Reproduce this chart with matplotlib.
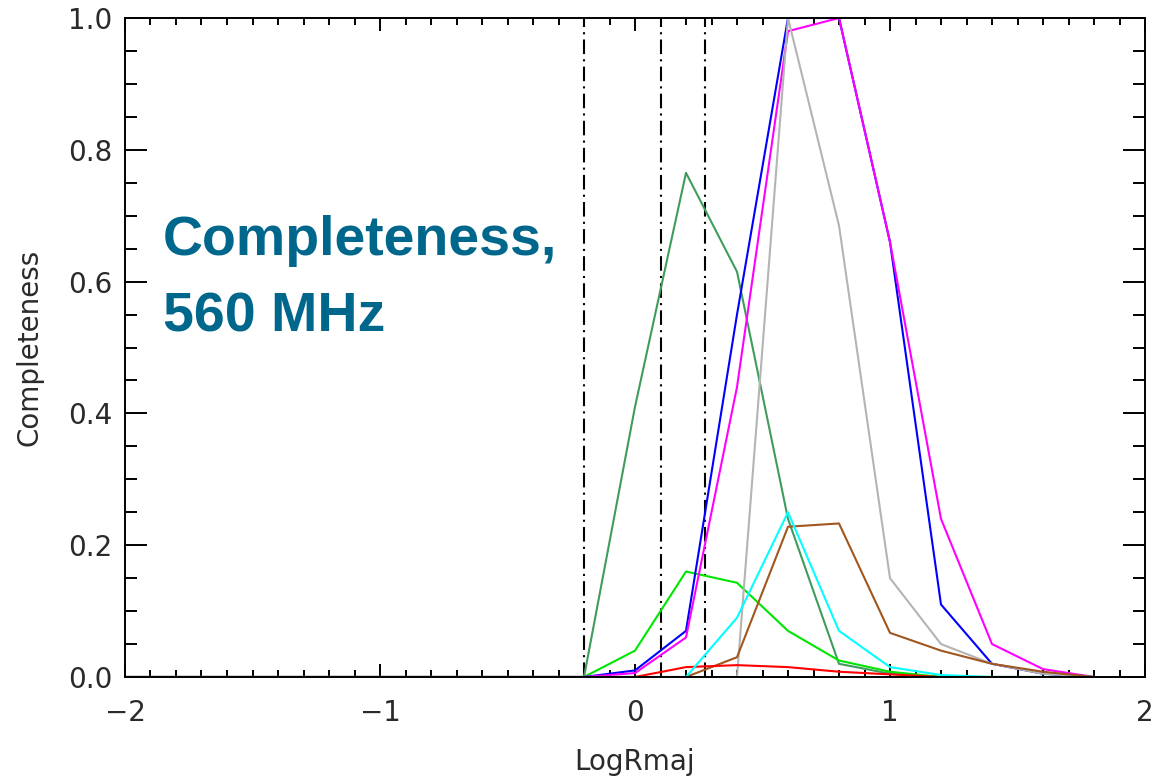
import matplotlib
matplotlib.use("Agg")
import matplotlib.pyplot as plt
from matplotlib.ticker import MultipleLocator, FormatStrFormatter

# x grid (LogRmaj) and completeness per series
logr = [-2.0, -1.8, -1.6, -1.4, -1.2, -1.0, -0.8, -0.6, -0.4, -0.2,
        0.0, 0.2, 0.4, 0.6, 0.8, 1.0, 1.2, 1.4, 1.6, 1.8]

c_seagreen = [0, 0, 0, 0, 0, 0, 0, 0, 0, 0,
              0.41, 0.765, 0.615, 0.24, 0.02, 0.005, 0, 0, 0, 0]
c_lime = [0, 0, 0, 0, 0, 0, 0, 0, 0, 0,
          0.04, 0.16, 0.143, 0.07, 0.025, 0.008, 0, 0, 0, 0]
c_blue = [0, 0, 0, 0, 0, 0, 0, 0, 0, 0,
          0.01, 0.07, 0.55, 1.0, 1.0, 0.66, 0.11, 0.02, 0.005, 0]
c_magenta = [0, 0, 0, 0, 0, 0, 0, 0, 0, 0,
             0.006, 0.06, 0.44, 0.98, 1.0, 0.66, 0.24, 0.05, 0.012, 0]
c_gray = [0, 0, 0, 0, 0, 0, 0, 0, 0, 0,
          0, 0, 0, 1.0, 0.685, 0.15, 0.05, 0.02, 0.005, 0]
c_brown = [0, 0, 0, 0, 0, 0, 0, 0, 0, 0,
           0, 0, 0.03, 0.228, 0.233, 0.067, 0.04, 0.02, 0.008, 0]
c_red = [0, 0, 0, 0, 0, 0, 0, 0, 0, 0,
         0, 0.015, 0.018, 0.015, 0.008, 0.004, 0, 0, 0, 0]
c_cyan = [0, 0, 0, 0, 0, 0, 0, 0, 0, 0,
          0, 0, 0.09, 0.25, 0.07, 0.015, 0.003, 0, 0, 0]

vlines = [-0.2, 0.1, 0.275]

series = [
    (c_seagreen, "#3f9c5c"),
    (c_lime, "#00e600"),
    (c_blue, "#0000ff"),
    (c_magenta, "#ff00ff"),
    (c_gray, "#b4b4b4"),
    (c_brown, "#a0561e"),
    (c_red, "#ff0000"),
    (c_cyan, "#00ffff"),
]

fig = plt.figure(figsize=(11.57, 7.79), dpi=100)
ax = fig.add_axes([125 / 1157, 1 - 677 / 779, 1020 / 1157, 659 / 779])

for xv in vlines:
    ax.axvline(xv, color="black", lw=1.5, linestyle=(0, (7, 2.5, 1, 2.5)), zorder=1)

for vals, col in series:
    ax.plot(logr, vals, color=col, lw=1.5, zorder=2)

ax.set_xlim(-2, 2)
ax.set_ylim(0, 1)

ax.xaxis.set_major_locator(MultipleLocator(1))
ax.xaxis.set_minor_locator(MultipleLocator(0.1))
ax.yaxis.set_major_locator(MultipleLocator(0.2))
ax.yaxis.set_minor_locator(MultipleLocator(0.05))
ax.yaxis.set_major_formatter(FormatStrFormatter("%.1f"))

ax.tick_params(axis="both", which="both", direction="in", top=True, right=True,
               width=1.4, colors="black", labelcolor="#2a2a2a", labelsize=20)
ax.tick_params(axis="x", which="major", length=9.5, pad=16)
ax.tick_params(axis="x", which="minor", length=5)
ax.tick_params(axis="y", which="major", length=15.5, pad=9)
ax.tick_params(axis="y", which="minor", length=8.5)
for sp in ax.spines.values():
    sp.set_linewidth(1.4)

ax.set_xlabel("LogRmaj", fontsize=20, color="#2a2a2a", labelpad=15)
ax.set_ylabel("Completeness", fontsize=20, color="#2a2a2a", labelpad=18)

fig.text(163 / 1157, 1 - 255 / 779, "Completeness,", fontsize=40, fontweight="bold",
         family="Liberation Sans", color="#00678c", va="baseline", ha="left")
fig.text(163 / 1157, 1 - 331 / 779, "560 MHz", fontsize=40, fontweight="bold",
         family="Liberation Sans", color="#00678c", va="baseline", ha="left")

fig.savefig("out.png", dpi=100)
